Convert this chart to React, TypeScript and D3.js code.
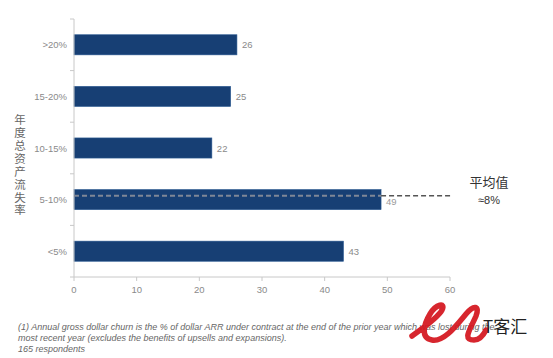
import React from "react";
import * as d3 from "d3";

const categories = [">20%", "15-20%", "10-15%", "5-10%", "<5%"];
const values = [26, 25, 22, 49, 43];
const xTicks = [0, 10, 20, 30, 40, 50, 60];
const yTitle = "年度总资产流失率";
const avgValue = 8;
const avgLabel = ["平均值", "≈8%"];
const footnotes = [
  "(1) Annual gross dollar churn is the % of dollar ARR under contract at the end of the prior year which was lost during the",
  "most recent year (excludes the benefits of upsells and expansions).",
  "165 respondents",
];

const W = 553;
const H = 358;
const left = 74;
const right = 450;
const top = 19;
const bottom = 277;

export default function App() {
  const x = d3.scaleLinear().domain([0, 60]).range([left, right]);
  const y = d3.scaleBand<string>().domain(categories).range([top, bottom]).paddingInner(0.61).paddingOuter(0.305);
  const step = y.step();
  const avgCat = "5-10%";
  const avgY = (y(avgCat) as number) + y.bandwidth() * (avgValue - 5) / 5 * 0.43 + 1;
  const axisColor = "#c8c8c8";
  const font = "'Liberation Sans', Arial, sans-serif";
  return (
    <svg width={W} height={H} style={{ position: "absolute", left: 0, top: 0, background: "#fff" }}>
      {categories.map((c, i) => (
        <rect key={c} x={x(0)} y={y(c)} width={x(values[i]) - x(0)} height={y.bandwidth()} fill="#173f74" stroke="#2c5a92" strokeWidth={0.6} />
      ))}
      <line x1={left} x2={left} y1={top} y2={bottom} stroke={axisColor} strokeWidth={1} />
      {d3.range(categories.length + 1).map((k) => (
        <line key={k} x1={left - 4} x2={left} y1={top + k * step} y2={top + k * step} stroke={axisColor} />
      ))}
      <line x1={left} x2={right} y1={bottom} y2={bottom} stroke={axisColor} />
      {xTicks.map((t) => (
        <g key={t}>
          <line x1={x(t)} x2={x(t)} y1={bottom} y2={bottom + 4} stroke={axisColor} />
          <text x={x(t)} y={bottom + 16} textAnchor="middle" fontFamily={font} fontSize={9.5} fill="#8a8a8a">{t}</text>
        </g>
      ))}
      {categories.map((c) => (
        <text key={c} x={left - 7} y={(y(c) as number) + y.bandwidth() / 2 + 3.5} textAnchor="end" fontFamily={font} fontSize={9.5} fill="#8a8a8a">{c}</text>
      ))}
      {categories.map((c, i) => (
        <text key={c} x={x(values[i]) + 5} y={(y(c) as number) + y.bandwidth() / 2 + (c === avgCat ? 5.5 : 3.5)} fontFamily={font} fontSize={9.5} fill={c === avgCat ? "#9a9a9a" : "#8a8a8a"}>{values[i]}</text>
      ))}
      <line x1={x(0)} x2={x(values[3])} y1={avgY} y2={avgY} stroke="#7f8796" strokeWidth={1.8} strokeDasharray="5,3" />
      <line x1={x(values[3])} x2={453} y1={avgY} y2={avgY} stroke="#555" strokeWidth={1.6} strokeDasharray="5,3" />
      <text x={489} y={187} textAnchor="middle" fontFamily="'Noto Sans CJK SC', sans-serif" fontSize={13} fill="#333">{avgLabel[0]}</text>
      <text x={489} y={204} textAnchor="middle" fontFamily={font} fontSize={11} fill="#333">{avgLabel[1]}</text>
      <text x={20} y={114} style={{ writingMode: "vertical-rl" }} fontFamily="'Noto Sans CJK SC', sans-serif" fontSize={11.5} letterSpacing={1.4} fill="#666">{yTitle}</text>
      {footnotes.map((f, i) => (
        <text key={i} x={18} y={330 + i * 11} fontFamily={font} fontStyle="italic" fontSize={9} fill="#666">{f}</text>
      ))}
      <g>
        <path d="M412,336 C420,330 438,318 442,310 C446,302 436,304 430,314 C424,324 420,338 432,340 C444,342 456,326 466,314 C474,304 480,306 476,316 C470,330 462,340 474,340 C480,340 484,334 486,330"
          fill="none" stroke="#d4141c" strokeWidth={5.5} strokeLinecap="round" opacity={0.92} />
        <text x={483} y={333} fontFamily="'Noto Sans CJK SC', sans-serif" fontSize={17} fill="#222">T客汇</text>
      </g>
    </svg>
  );
}
